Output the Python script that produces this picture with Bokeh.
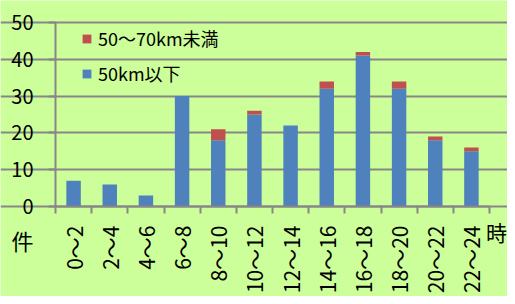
import math
from bokeh.plotting import figure
from bokeh.models import (FixedTicker, Legend, LegendItem, Label, Range1d)
from bokeh.embed import file_html
from bokeh.resources import INLINE

categories = ["0～2", "2～4", "4～6", "6～8", "8～10", "10～12",
              "12～14", "14～16", "16～18", "18～20", "20～22", "22～24"]
under50 = [7, 6, 3, 30, 18, 25, 22, 32, 41, 32, 18, 15]
from50to70 = [0, 0, 0, 0, 3, 1, 0, 2, 1, 2, 1, 1]
series_names = ["50km以下", "50～70km未満"]
y_ticks = [0, 10, 20, 30, 40, 50]
y_max = 50

BLUE = "#4f81bd"
RED = "#c0504d"
GREEN_BG = "#ccff99"
GRID = "#878787"
FONT = "Noto Sans CJK JP"

# layout (pixels): plotting box inside the 507x296 canvas
W, H = 507, 296
BOX_L, BOX_R, BOX_T, BOX_B = 55, 489, 22, 206

n = len(categories)
xs = [i + 0.5 for i in range(n)]

ux = (BOX_R - BOX_L) / n          # px per x unit
uy = (BOX_B - BOX_T) / y_max      # px per y unit
x_range = Range1d(-BOX_L / ux, (W - BOX_L) / ux)
y_range = Range1d(-(H - BOX_B) / uy, y_max + BOX_T / uy)

p = figure(width=W, height=H, output_backend="svg", toolbar_location=None,
           x_range=x_range, y_range=y_range,
           min_border=0, min_border_left=0, min_border_right=0,
           min_border_top=0, min_border_bottom=0)
p.background_fill_color = GREEN_BG
p.border_fill_color = GREEN_BG
p.outline_line_color = None

source = dict(x=xs, under50=under50, from50to70=from50to70)
rs = p.vbar_stack(["under50", "from50to70"], x="x", width=0.4, source=source,
                  color=[BLUE, RED], line_color=None)

# axes placed inside the frame
xa = p.xaxis[0]
xa.fixed_location = 0
xa.bounds = (0, n)
xa.ticker = FixedTicker(ticks=xs, minor_ticks=list(range(n + 1)))
xa.major_label_overrides = {x: c for x, c in zip(xs, categories)}
xa.major_label_orientation = math.pi / 2
xa.major_tick_line_color = None
xa.major_tick_out = 0
xa.major_tick_in = 0
xa.minor_tick_out = 7
xa.minor_tick_in = 0
xa.minor_tick_line_color = GRID
xa.minor_tick_line_width = 2
xa.major_label_standoff = 12
xa.major_label_text_font = FONT
xa.major_label_text_font_size = "21px"
xa.major_label_text_color = "black"
xa.axis_line_color = GRID
xa.axis_line_width = 2

ya = p.yaxis[0]
ya.fixed_location = 0
ya.bounds = (0, y_max)
ya.ticker = FixedTicker(ticks=y_ticks)
ya.minor_tick_line_color = None
ya.major_tick_out = 7
ya.major_tick_in = 0
ya.major_tick_line_color = GRID
ya.major_tick_line_width = 2
ya.major_label_standoff = 15
ya.major_label_text_font = FONT
ya.major_label_text_font_size = "20px"
ya.major_label_text_color = "black"
ya.axis_line_color = GRID
ya.axis_line_width = 2

p.xgrid.grid_line_color = None
p.ygrid.grid_line_color = GRID
p.ygrid.grid_line_width = 2
p.ygrid.ticker = FixedTicker(ticks=y_ticks)
p.ygrid.bounds = (0, n)

legend = Legend(items=[LegendItem(label=series_names[1], renderers=[rs[1]]),
                       LegendItem(label=series_names[0], renderers=[rs[0]])],
                location=(81, 210), orientation="vertical")
legend.background_fill_alpha = 0
legend.border_line_alpha = 0
legend.padding = 0
legend.margin = 0
legend.spacing = 9
legend.glyph_width = 11
legend.glyph_height = 11
legend.label_height = 20
legend.label_standoff = 6
legend.label_text_font = FONT
legend.label_text_font_size = "18px"
legend.label_text_color = "black"
p.add_layout(legend, "center")

# unit captions: 件 (count) and 時 (hour)
p.add_layout(Label(x=(22 - BOX_L) / ux, y=-(239 - BOX_B) / uy,
                   text="件", text_align="center",
                   text_baseline="middle", text_font=FONT,
                   text_font_size="22px", text_color="black"))
p.add_layout(Label(x=(496 - BOX_L) / ux, y=-(231 - BOX_B) / uy,
                   text="時", text_align="center",
                   text_baseline="middle", text_font=FONT,
                   text_font_size="21px", text_color="black"))

open("out.html", "w").write(file_html(p, INLINE))
